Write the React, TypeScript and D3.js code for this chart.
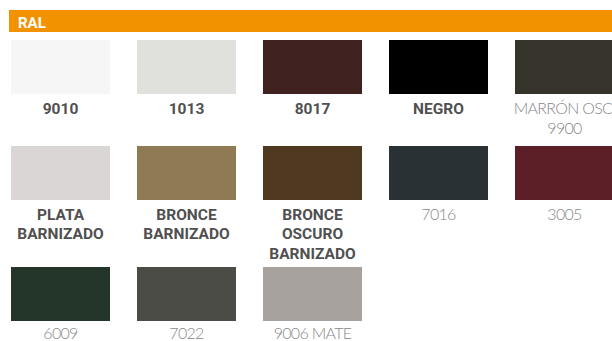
import React from "react";
import * as d3 from "d3";

const title = "RAL";
const swatchLabels: string[][] = [
  ["9010"],
  ["1013"],
  ["8017"],
  ["NEGRO"],
  ["MARRÓN OSC.", "9900"],
  ["PLATA", "BARNIZADO"],
  ["BRONCE", "BARNIZADO"],
  ["BRONCE", "OSCURO", "BARNIZADO"],
  ["7016"],
  ["3005"],
  ["6009"],
  ["7022"],
  ["9006 MATE"],
];
const swatchColors = [
  "#f6f6f6",
  "#e0e0dc",
  "#3f221f",
  "#000000",
  "#36332a",
  "#d9d6d5",
  "#8f7b53",
  "#4f3820",
  "#293134",
  "#5c1f28",
  "#243629",
  "#4c4c46",
  "#a7a29e",
];
const swatchBold = [true, true, true, true, false, true, true, true, false, false, false, false, false];

const W = 612;
const H = 341;
const COLS = 5;
const rowTops = [40, 146, 267];
const labelOffsets = [74, 73.5, 72];
const swH = 54;

export default function App() {
  const x = d3
    .scaleBand<number>()
    .domain(d3.range(COLS))
    .range([11, 614])
    .paddingInner(27 / 126)
    .paddingOuter(0);

  return (
    <svg
      width={W}
      height={H}
      style={{ position: "fixed", left: 0, top: 0, background: "#fff" }}
    >
      <rect x={9} y={10} width={W - 9} height={22} fill="#f39200" />
      <text
        x={18}
        y={27.5}
        fill="#fff"
        fontFamily="Roboto, 'DejaVu Sans', sans-serif"
        fontWeight={700}
        fontSize={15}
      >
        {title}
      </text>
      {swatchLabels.map((lines, i) => {
        const col = i % COLS;
        const row = Math.floor(i / COLS);
        const x0 = x(col)!;
        const y0 = rowTops[row];
        const cx = x0 + x.bandwidth() / 2;
        const bold = swatchBold[i];
        return (
          <g key={i}>
            <rect x={x0} y={y0} width={x.bandwidth()} height={swH} fill={swatchColors[i]} />
            <text
              textAnchor="middle"
              fontFamily={bold ? "Roboto, 'DejaVu Sans', sans-serif" : "Lato, Roboto, sans-serif"}
              fontWeight={bold ? 700 : 300}
              fontSize={bold ? 15.5 : 16}
              letterSpacing={bold ? 0 : -0.7}
              fill={bold ? "#505050" : "#888888"}
            >
              {lines.map((t, j) => (
                <tspan key={j} x={cx} y={y0 + labelOffsets[row] + j * 19.5}>
                  {t}
                </tspan>
              ))}
            </text>
          </g>
        );
      })}
    </svg>
  );
}
